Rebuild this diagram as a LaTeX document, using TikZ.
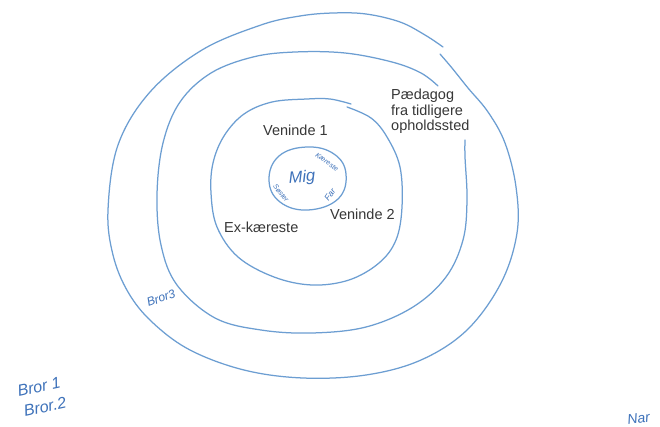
\documentclass[tikz,border=0pt]{standalone}
\usepackage{fontspec}
\setmainfont{Liberation Sans}
\newfontfamily\handfont{Liberation Sans}
\definecolor{ring}{RGB}{108,158,210}
\definecolor{ink}{RGB}{62,114,186}
\definecolor{txt}{RGB}{55,55,55}
\begin{document}
\begin{tikzpicture}[x=1pt,y=-1pt,
  ringline/.style={draw=ring,line width=1.25pt,line cap=round,line join=round},
  lab/.style={inner sep=0pt,anchor=base west,text=txt,font=\fontsize{14.5}{16}\selectfont},
  hand/.style={inner sep=0pt,text=ink}]
\useasboundingbox (0,0) rectangle (660,427);
\clip (0,0) rectangle (660,427);
\fill[white] (0,0) rectangle (660,427);

% outer loop
\draw[ringline] plot[smooth,tension=0.6] coordinates {
 (443,47) (425,35) (400,22) (366,14) (333,13) (300,16) (261,25) (202,50)
 (150,92) (118,145) (108,210) (113,255) (128,292) (152,322) (190,350) (244,370)
 (303,378) (366,375) (421,360) (467,330) (501,283) (517,233) (516,187)
 (505,143) (488,112) (468,88) (452,68) (440,54)};

% third loop
\draw[ringline] plot[smooth,tension=0.6] coordinates {
 (438,86) (421,73) (392,62) (345,53) (295,52) (253,57) (211,73) (180,102)
 (163,143) (157,195) (161,245) (177,285) (215,318) (261,330) (312,333)
 (366,327) (413,307) (446,277) (463,240) (467,200) (465,157) (465,140)};

% second loop
\draw[ringline] plot[smooth,tension=0.6] coordinates {
 (351,104) (330,99) (307,99) (272,102) (244,114) (224,136) (213,163)
 (211,193) (217,227) (238,257) (274,277) (312,285) (349,280) (379,263)
 (396,240) (402,207) (400,167) (387,137) (371,118) (347,107)};

% inner circle
\draw[ringline] plot[smooth cycle,tension=0.7] coordinates {
 (307,147) (334,154) (346,174) (338,199) (308,210) (280,202) (269,180) (279,156)};

% printed labels
\node[lab] (v1) at (263,136) {Veninde 1};
\node[lab] (v2) at (330,220) {Veninde 2};
\node[lab] (ex) at (224,233) {Ex-kæreste};
\node[lab] (p1) at (391,100) {Pædagog};
\node[lab] (p2) at (391,115.5) {fra tidligere};
\node[lab] (p3) at (391,131) {opholdssted};

% handwritten labels
\node[hand,font=\handfont\itshape\fontsize{16.5}{16.5}\selectfont,rotate=4] (mig) at (302,178) {Mig};
\node[hand,font=\handfont\itshape\fontsize{7}{7}\selectfont,rotate=-36] (kae) at (327,162) {Kæreste};
\node[hand,font=\handfont\itshape\fontsize{8.5}{8.5}\selectfont,rotate=55] (far) at (330,195) {Far};
\node[hand,font=\handfont\itshape\fontsize{7}{7}\selectfont,rotate=-52] (sos) at (281,193) {Søster};
\node[hand,font=\handfont\itshape\fontsize{12}{12}\selectfont,rotate=20] (b3) at (161,298) {Bror3};
\node[hand,font=\handfont\itshape\fontsize{16}{16}\selectfont,rotate=12] (b1) at (39,387) {Bror 1};
\node[hand,font=\handfont\itshape\fontsize{16}{16}\selectfont,rotate=12] (b2) at (45,407) {Bror.2};
\node[hand,font=\handfont\itshape\fontsize{14}{14}\selectfont,rotate=8,anchor=base west] (nar) at (628,425) {Nar};
\end{tikzpicture}
\end{document}
